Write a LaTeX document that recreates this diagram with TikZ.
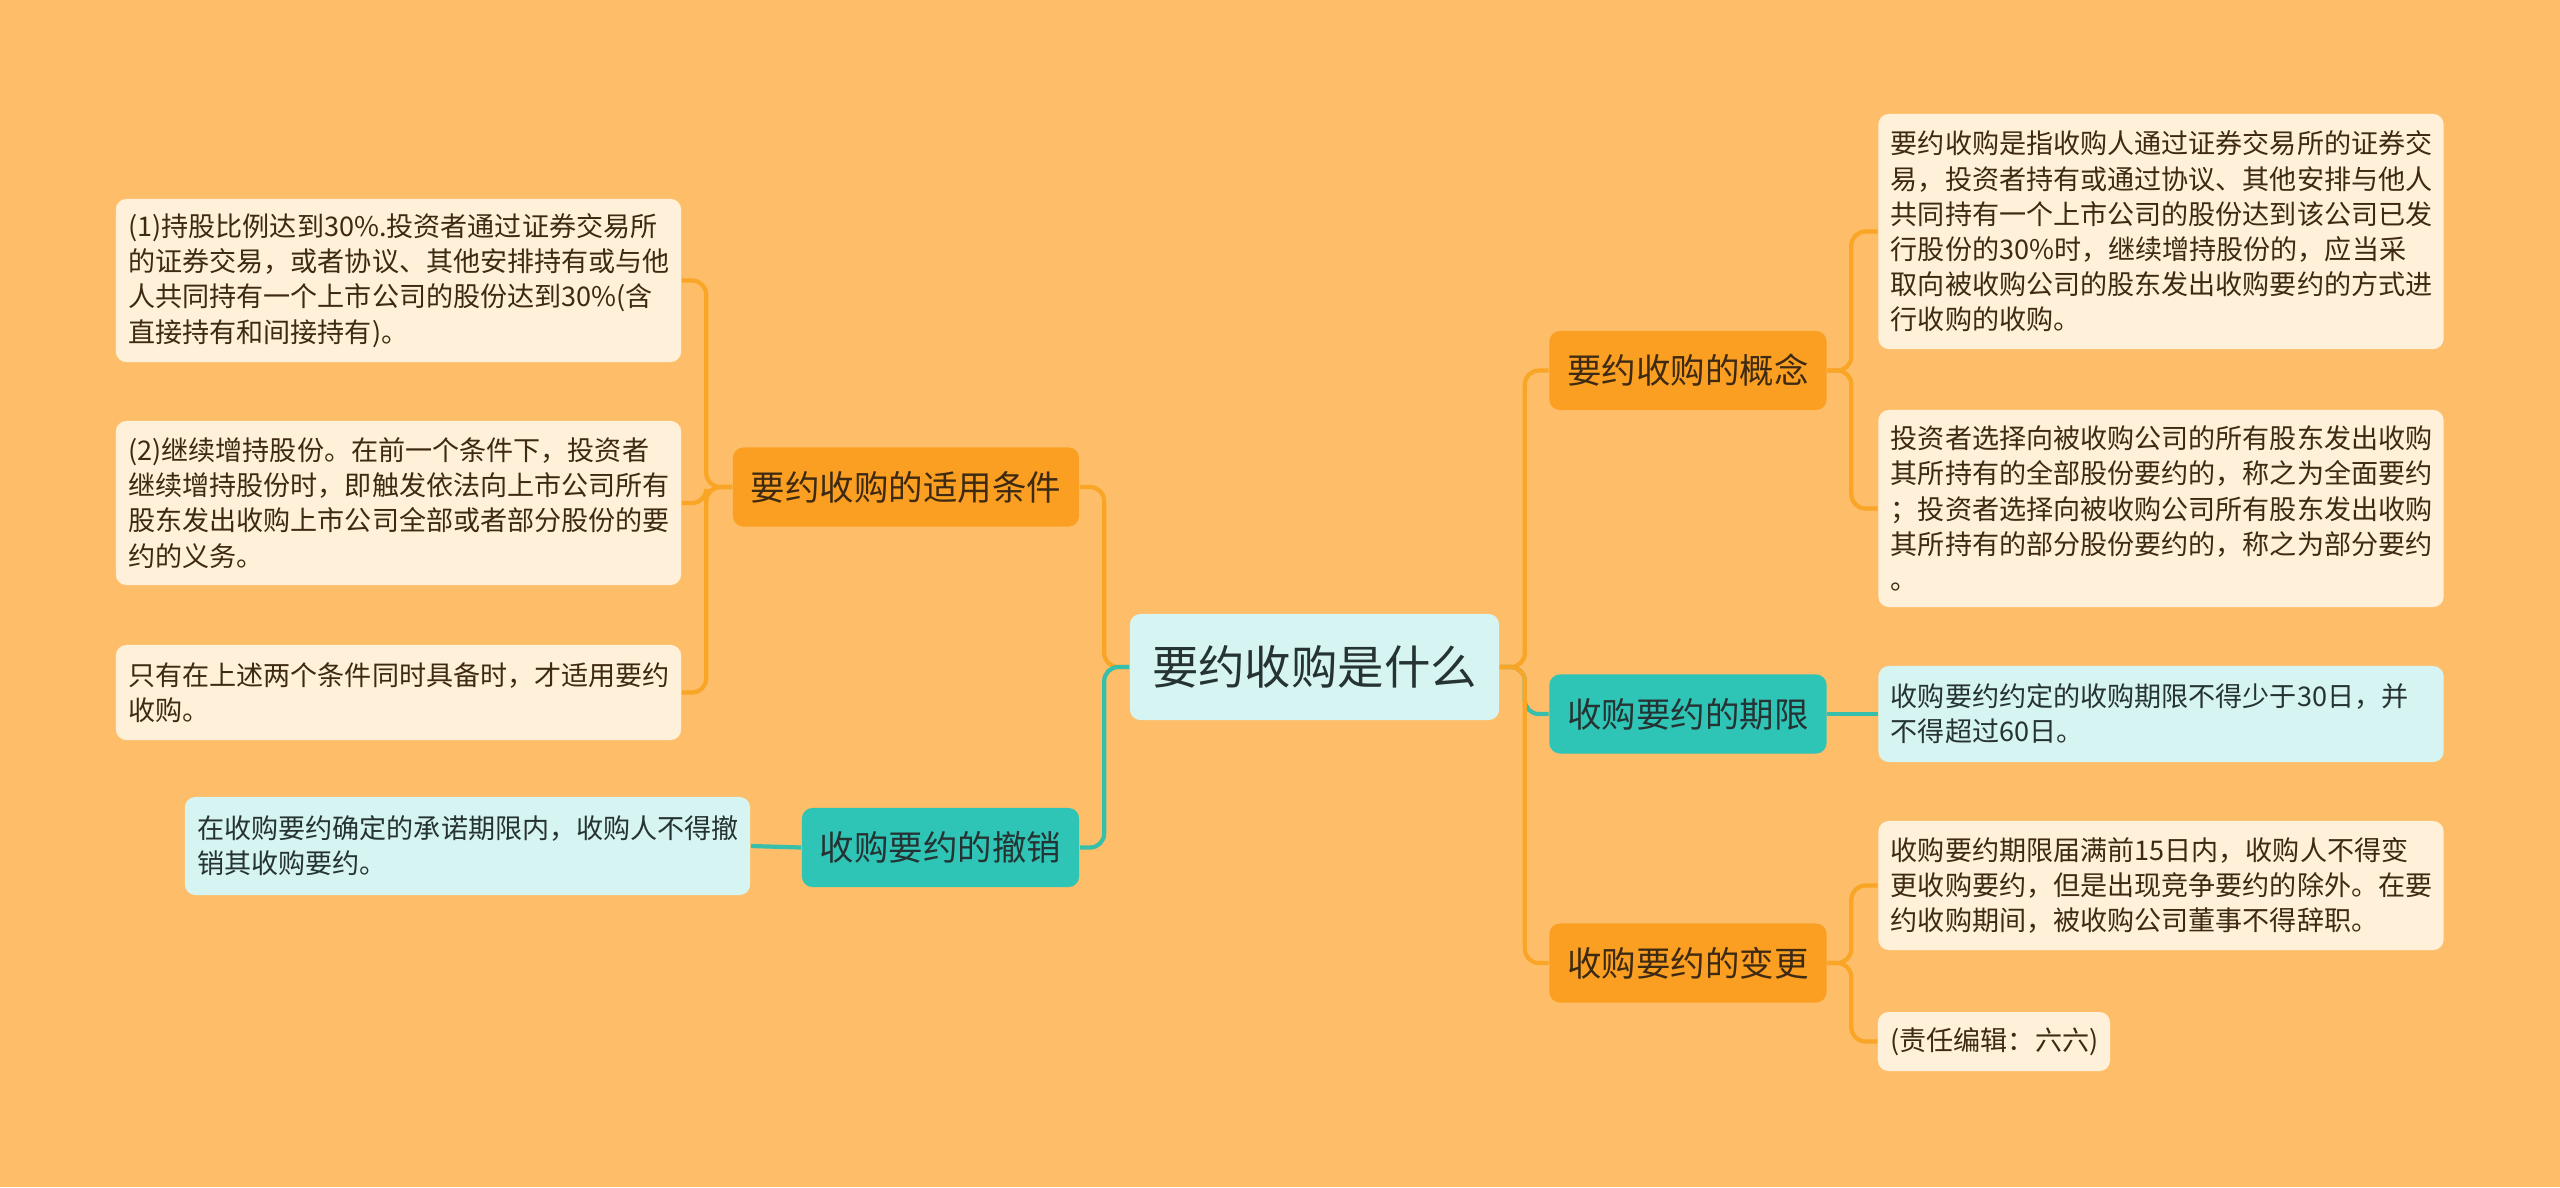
\documentclass[tikz,border=0pt]{standalone}
\usepackage{fontspec}
\setmainfont{Noto Sans CJK SC}
\usepackage{tikz}
\usetikzlibrary{calc}

\definecolor{bgorange}{HTML}{FEBE69}
\definecolor{branchorange}{HTML}{FA9F21}
\definecolor{branchteal}{HTML}{2EC4B6}
\definecolor{leafcream}{HTML}{FFF0DA}
\definecolor{leafcyan}{HTML}{D6F4F1}
\definecolor{lineorange}{HTML}{F9A526}
\definecolor{lineteal}{HTML}{36BFAA}
\definecolor{textbrown}{HTML}{3E2A12}
\definecolor{textdark}{HTML}{263333}

\newcommand\leaffont{\fontsize{7.7pt}{10pt}\selectfont}
\newcommand\branchfont{\fontsize{9.8pt}{12pt}\selectfont}
\newcommand\rootfont{\fontsize{13.2pt}{16pt}\selectfont}

\tikzset{
	rootnode/.style={fill=leafcyan, text=textdark, rounded corners=3pt, font=\rootfont, minimum width=3.69cm, minimum height=1.06cm, inner sep=0},
	branchbox/.style={rounded corners=3pt, font=\branchfont, minimum height=0.79cm, inner xsep=0.18cm, inner ysep=0},
	orangebranch/.style={branchbox, fill=branchorange, text=textbrown},
	tealbranch/.style={branchbox, fill=branchteal, text=textdark},
	leafbox/.style={rounded corners=3pt, font=\leaffont, align=left, text width=5.4cm, inner xsep=0.125cm, inner ysep=0},
	creamleaf/.style={leafbox, fill=leafcream, text=textbrown},
	cyanleaf/.style={leafbox, fill=leafcyan, text=textdark},
	oline/.style={draw=lineorange, line width=1.2pt, rounded corners=4pt},
	tline/.style={draw=lineteal, line width=1.2pt, rounded corners=4pt}
}

\begin{document}
\begin{tikzpicture}[x=0.01cm, y=-0.01cm]
		%%%%% BACKGROUND %%%%%
		\fill[bgorange] (0, 0) rectangle (2560, 1187);
		\useasboundingbox (0, 0) rectangle (2560, 1187);
		
		%%%%% CENTRE %%%%%
		\node[rootnode] (root) at (1314.5, 667) {要约收购是什么};
		
		%%%%% LEFT SIDE %%%%%
		\node[orangebranch] (cond) at (906, 487) {要约收购的适用条件};
		\node[tealbranch] (revoke) at (940.5, 847.5) {收购要约的撤销};
		
		\node[creamleaf, minimum height=1.63cm] (condA) at (398.5, 280.5) {(1)持股比例达到30\%.投资者通过证券交易所\\的证券交易，或者协议、其他安排持有或与他\\人共同持有一个上市公司的股份达到30\%(含\\直接持有和间接持有)。};
		\node[creamleaf, minimum height=1.64cm] (condB) at (398.5, 503) {(2)继续增持股份。在前一个条件下，投资者\\继续增持股份时，即触发依法向上市公司所有\\股东发出收购上市公司全部或者部分股份的要\\约的义务。};
		\node[creamleaf, minimum height=0.95cm] (condC) at (398.5, 692.5) {只有在上述两个条件同时具备时，才适用要约\\收购。};
		\node[cyanleaf, minimum height=0.98cm] (revokeA) at (467.5, 846) {在收购要约确定的承诺期限内，收购人不得撤\\销其收购要约。};
		
		%%%%% RIGHT SIDE %%%%%
		\node[orangebranch] (concept) at (1688, 370.5) {要约收购的概念};
		\node[tealbranch] (period) at (1688, 714) {收购要约的期限};
		\node[orangebranch] (change) at (1688, 963) {收购要约的变更};
		
		\node[creamleaf, minimum height=2.35cm] (conceptA) at (2161, 231.5) {要约收购是指收购人通过证券交易所的证券交\\易，投资者持有或通过协议、其他安排与他人\\共同持有一个上市公司的股份达到该公司已发\\行股份的30\%时，继续增持股份的，应当采\\取向被收购公司的股东发出收购要约的方式进\\行收购的收购。};
		\node[creamleaf, minimum height=1.97cm] (conceptB) at (2161, 508.5) {投资者选择向被收购公司的所有股东发出收购\\其所持有的全部股份要约的，称之为全面要约\\；投资者选择向被收购公司所有股东发出收购\\其所持有的部分股份要约的，称之为部分要约\\。};
		\node[cyanleaf, minimum height=0.96cm] (periodA) at (2161, 714) {收购要约约定的收购期限不得少于30日，并\\不得超过60日。};
		\node[creamleaf, minimum height=1.29cm] (changeA) at (2161, 885.5) {收购要约期限届满前15日内，收购人不得变\\更收购要约，但是出现竞争要约的除外。在要\\约收购期间，被收购公司董事不得辞职。};
		\node[creamleaf, text width=2.07cm, minimum height=0.59cm] (changeB) at (1994, 1041.5) {(责任编辑：六六)};
		
		%%%%% CONNECTORS %%%%%
		\draw[oline] (root.west) -- ++(-25, 0) |- (cond.east);
		\draw[tline] (root.west) -- ++(-25, 0) |- (revoke.east);
		\draw[oline] (cond.west) -- ++(-26, 0) |- (condA.east);
		\draw[oline] (cond.west) -- ++(-26, 0) |- (condB.east);
		\draw[oline] (cond.west) -- ++(-26, 0) |- (condC.east);
		\draw[tline] (revoke.west) -- (revokeA.east);
		
		\draw[oline] (root.east) -- ++(25, 0) |- (concept.west);
		\draw[tline] (root.east) -- ++(25, 0) |- (period.west);
		\draw[oline] (root.east) -- ++(25, 0) |- (change.west);
		\draw[oline] (concept.east) -- ++(24, 0) |- (conceptA.west);
		\draw[oline] (concept.east) -- ++(24, 0) |- (conceptB.west);
		\draw[tline] (period.east) -- (periodA.west);
		\draw[oline] (change.east) -- ++(24, 0) |- (changeA.west);
		\draw[oline] (change.east) -- ++(24, 0) |- (changeB.west);
		
		%%%%% END %%%%%
	\end{tikzpicture}
\end{document}
